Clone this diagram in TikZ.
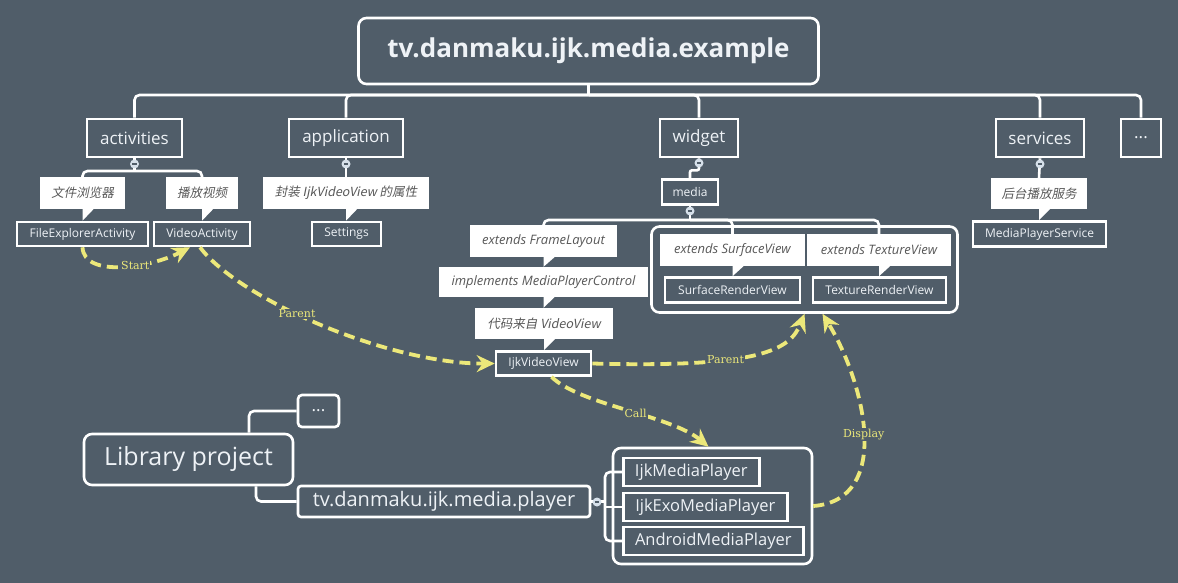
\documentclass[tikz,border=0pt]{standalone}
\usepackage{fontspec}
\setmainfont{Open Sans}
\newfontfamily\cjk[AutoFakeSlant=0.2]{Noto Sans CJK SC}
\newfontfamily\labelfont{DejaVu Serif}
\usetikzlibrary{arrows.meta}
\definecolor{bg}{RGB}{80,93,105}
\definecolor{flowyellow}{RGB}{236,232,122}
\definecolor{calltext}{RGB}{88,88,88}
\definecolor{boxtext}{RGB}{238,242,246}
\definecolor{dotfill}{RGB}{214,224,234}

\begin{document}
\begin{tikzpicture}[x=1pt,y=-1pt,
    box/.style={draw=white,line width=2.6pt,fill=bg,text=boxtext,inner sep=0pt},
    callout/.style={fill=white,text=calltext,inner sep=0pt,font=\itshape\fontsize{13}{15}\selectfont},
    cjkcallout/.style={callout,font=\cjk\itshape\fontsize{12.5}{15}\selectfont},
    leaf/.style={box,minimum height=24,font=\fontsize{12}{14}\selectfont},
    conn/.style={draw=white,line width=2.6pt,rounded corners=5pt},
    flow/.style={draw=flowyellow,line width=3.8pt,dash pattern=on 11pt off 6pt,
      -{Stealth[length=18pt,width=17pt,inset=6pt]}},
    flowlabel/.style={fill=bg,text=flowyellow,inner sep=1pt,font=\labelfont\fontsize{11}{13}\selectfont}]
    \fill[bg] (0,0) rectangle (1178,583);
    \useasboundingbox (0,0) rectangle (1178,583);

    \node[box,rounded corners=8pt,minimum width=460,minimum height=66,
      font=\bfseries\fontsize{26}{30}\selectfont] (root) at (588.5,51) {tv.danmaku.ijk.media.example};
    \foreach \n/\x/\w/\t in {act/134.5/95/activities, app/346/114/application,
      wid/699/78/widget, serv/1040/88/services}
    \node[box,minimum width=\w,minimum height=38,font=\fontsize{17}{20}\selectfont] (\n) at (\x,138) {\t};
    \node[box,minimum width=40,minimum height=38,font=\fontsize{17}{20}\selectfont] (more) at (1141,138) {...};

    \node[box,rounded corners=8pt,minimum width=306,minimum height=86] (grpA) at (804.5,269.5) {};
    \node[box,rounded corners=8pt,minimum width=199,minimum height=116] (grpB) at (712.5,506) {};

    \node[cjkcallout,minimum width=85,minimum height=32] (cfile) at (82.5,193) {文件浏览器};
    \node[cjkcallout,minimum width=72,minimum height=32] (cplay) at (202,193) {播放视频};
    \node[cjkcallout,minimum width=166,minimum height=32] (capp) at (346,193) {封装 IjkVideoView 的属性};
    \node[cjkcallout,minimum width=96,minimum height=31] (cserv) at (1039,193.5) {后台播放服务};
    \node[callout,minimum width=147,minimum height=32] (cframe) at (543.5,241) {extends FrameLayout};
    \node[callout,minimum width=209,minimum height=30] (cimpl) at (543.5,282) {implements MediaPlayerControl};
    \node[cjkcallout,minimum width=138,minimum height=31] (ccode) at (544,323.5) {代码来自 VideoView};
    \node[callout,minimum width=145,minimum height=32] (csurf) at (732.5,250) {extends SurfaceView};
    \node[callout,minimum width=144,minimum height=32] (ctex) at (879,250) {extends TextureView};

    \node[leaf,minimum width=131] (fea) at (82.5,234) {FileExplorerActivity};
    \node[leaf,minimum width=96] (va) at (202,234) {VideoActivity};
    \node[leaf,minimum width=69] (set) at (346.5,234) {Settings};
    \node[leaf,minimum width=133,minimum height=25] (mps) at (1039.5,234) {MediaPlayerService};
    \node[leaf,minimum width=56,minimum height=25] (media) at (690,192) {media};
    \node[leaf,minimum width=95] (ijk) at (543.5,363.5) {IjkVideoView};
    \node[leaf,minimum width=135,minimum height=25] (surf) at (732.5,290) {SurfaceRenderView};
    \node[leaf,minimum width=133,minimum height=25] (tex) at (879.5,290) {TextureRenderView};

    \node[box,rounded corners=8pt,minimum width=209,minimum height=51,
      font=\fontsize{25}{30}\selectfont] (lib) at (188.5,459.5) {Library project};
    \node[box,rounded corners=4pt,minimum width=41,minimum height=32,
      font=\fontsize{17}{20}\selectfont] (more2) at (318.5,411) {...};
    \node[box,rounded corners=3pt,minimum width=292,minimum height=31,
      font=\fontsize{20}{24}\selectfont] (player) at (444,501.5) {tv.danmaku.ijk.media.player};
    \foreach \n/\y/\w/\t in {imp/472/136/IjkMediaPlayer, exo/507/164/IjkExoMediaPlayer,
      amp/541/180/AndroidMediaPlayer}
    \node[box,minimum width=\w,minimum height=28,font=\fontsize{16.5}{20}\selectfont,
      anchor=west] (\n) at (622,\y) {\t};

    \coordinate (rootbar) at (588.5,95);
    \coordinate (actbar) at (134.5,171);
    \coordinate (medbar) at (690,220);
    \coordinate (pbar) at (605,507);
    \draw[conn] (root.south) -- (rootbar);
    \foreach \n in {act,app,wid,serv,more}
    \draw[conn] (\n.north) |- (rootbar);
    \draw[conn] (act.south) -- (actbar);
    \draw[conn] (cfile.north) |- (actbar) -| (cplay.north);
    \draw[conn] (app.south) -- (capp.north);
    \draw[conn] (serv.south) -- (cserv.north);
    \draw[conn,rounded corners=2pt] (wid.south) -- ++(0,12) -| (media.north);
    \draw[conn] (media.south) -- (medbar);
    \draw[conn] (cframe.north) |- (medbar) -| (ctex.north);
    \draw[conn] (csurf.north) |- (medbar);
    \draw[conn] ([xshift=60.5]lib.north) |- (more2.west);
    \draw[conn] ([xshift=67.5]lib.south) |- (player.west);
    \draw[conn] (imp.west) -| (pbar) |- (amp.west);
    \draw[conn] (exo.west) -- (pbar |- exo.west);
    \draw[conn] (player.east) -- (pbar |- player.east);

    \foreach \a/\b in {cfile/fea, cplay/va, capp/set, cserv/mps, cframe/cimpl,
      cimpl/ccode, ccode/ijk, csurf/surf, ctex/tex}
    \fill[white] (\a.south) -- (\a.south |- \b.north) -- ([xshift=11]\a.south) -- cycle;

    \foreach \p in {(134.5,164), (346,164), (699,163), (690,211), (1040,164), (597,502)} {
      \fill[dotfill] \p circle (4.5);
      \draw[bg,line width=1.2pt] \p ++(-2.2,0) -- ++(4.4,0);
    }

    \draw[flow] (fea.south) .. controls (84,278) and (150,268) .. ([xshift=-12]va.south)
      node[flowlabel,pos=0.6] {Start};
    \draw[flow] ([xshift=-2]va.south) .. controls (240,300) and (390,364) .. (ijk.west)
      node[flowlabel,pos=0.42] {Parent};
    \draw[flow] (ijk.east) .. controls (760,368) and (790,350) .. (grpA.south)
      node[flowlabel,pos=0.36] {Parent};
    \draw[flow] ([xshift=8]ijk.south) .. controls (580,405) and (670,415) .. ([xshift=-4]grpB.north)
      node[flowlabel,pos=0.55] {Call};
    \draw[flow] (grpB.east) .. controls (892,500) and (866,385) .. ([xshift=18]grpA.south)
      node[flowlabel,pos=0.5] {Display};
\end{tikzpicture}
\end{document}
